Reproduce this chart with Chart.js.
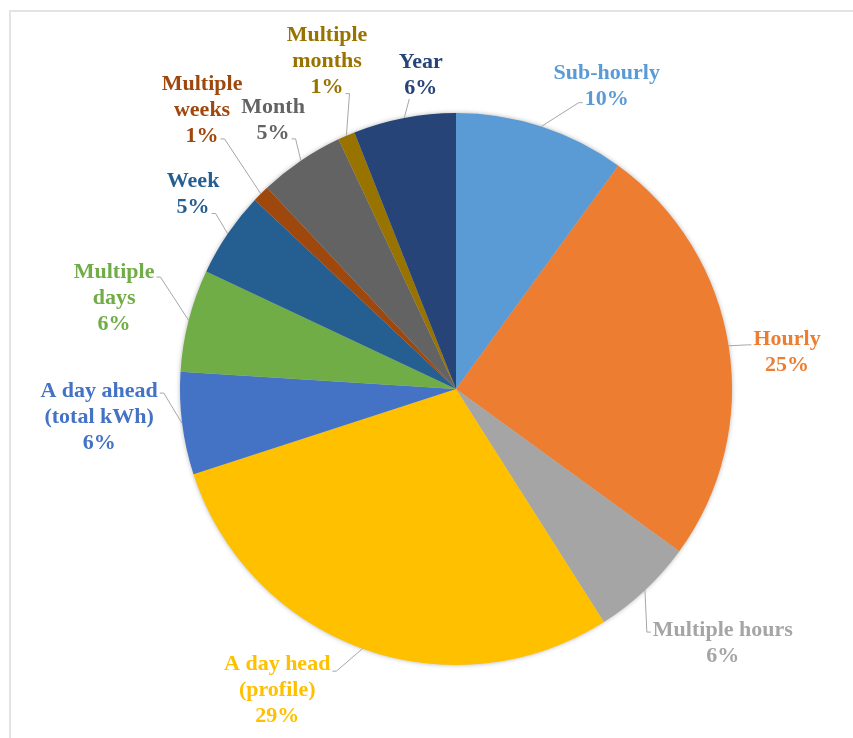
<!DOCTYPE html>
<html>
<head>
<meta charset="utf-8">
<script src="https://cdn.jsdelivr.net/npm/chart.js@4.4.1/dist/chart.umd.min.js"></script>
<style>
  html, body { margin: 0; padding: 0; background: #fff; }
  #wrap { position: relative; width: 853px; height: 738px; overflow: hidden; }
  #frame { position: absolute; left: 9px; top: 10px; right: -10px; bottom: -10px;
           border-top: 2px solid #e3e3e3; border-left: 2px solid #e3e3e3; }
  canvas { position: absolute; left: 0; top: 0; }
</style>
</head>
<body>
<div id="wrap">
  <div id="frame"></div>
  <canvas id="c" width="853" height="738"></canvas>
</div>
<script>
// Forecast horizon categories and their shares (%)
const categories = [
  'Sub-hourly', 'Hourly', 'Multiple hours', 'A day head\n(profile)',
  'A day ahead\n(total kWh)', 'Multiple\ndays', 'Week', 'Multiple\nweeks',
  'Month', 'Multiple\nmonths', 'Year'
];
const shares = [10, 25, 6, 29, 6, 6, 5, 1, 5, 1, 6];

// Slice and label colours
const sliceColors = [
  '#5B9BD5', '#ED7D31', '#A5A5A5', '#FFC000', '#4472C4', '#70AD47',
  '#255E91', '#9E480E', '#636363', '#997300', '#264478'
];

// Label placement: direction (degrees clockwise from 12 o'clock) and distance in pie radii
const labelAngle = [26.5, 83.6, 133.6, 210.7, 265.5, 284.9, 306.5, 317.7, 325.8, 338.5, 353.6];
const labelDist  = [1.224, 1.207, 1.335, 1.269, 1.297, 1.282, 1.185, 1.367, 1.179, 1.275, 1.145];
// Where each leader line meets its label: side of the block, text line, vertical nudge
const leaderSide  = ['left', 'left', 'left', 'right', 'right', 'right', 'right', 'right', 'right', 'right', 'bottom'];
const leaderLine  = [1, 0, 0, 0, 0, 0, 1, 2, 1, 2, 1];
const leaderNudge = [3, 6, 2, 7, 2, 5, 6, 3, 6, 6, 11];

const LABEL_FONT = 'bold 22px "Liberation Serif", "Times New Roman", serif';
const LINE_H = 26;

// Soft drop shadow under the whole pie
const pieShadow = {
  id: 'pieShadow',
  beforeDatasetsDraw(chart) {
    const arc = chart.getDatasetMeta(0).data[0];
    if (!arc) return;
    const { x, y, outerRadius } = arc.getProps(['x', 'y', 'outerRadius'], true);
    const ctx = chart.ctx;
    ctx.save();
    ctx.shadowColor = 'rgba(0,0,0,0.35)';
    ctx.shadowBlur = 5;
    ctx.beginPath();
    ctx.arc(x, y, outerRadius - 0.5, 0, Math.PI * 2);
    ctx.fillStyle = '#c8c8c8';
    ctx.fill();
    ctx.restore();
  }
};

// Outside labels with leader lines
const outsideLabels = {
  id: 'outsideLabels',
  afterDatasetsDraw(chart) {
    const ctx = chart.ctx;
    const meta = chart.getDatasetMeta(0);
    ctx.save();
    ctx.font = LABEL_FONT;
    ctx.textAlign = 'center';
    ctx.textBaseline = 'middle';
    meta.data.forEach((arc, i) => {
      const p = arc.getProps(['x', 'y', 'startAngle', 'endAngle', 'outerRadius'], true);
      const mid = (p.startAngle + p.endAngle) / 2;
      const R = p.outerRadius;
      const ax = p.x + Math.cos(mid) * R;
      const ay = p.y + Math.sin(mid) * R;

      const a = labelAngle[i] * Math.PI / 180 - Math.PI / 2;
      const cx = p.x + Math.cos(a) * labelDist[i] * R;
      const cy = p.y + Math.sin(a) * labelDist[i] * R;

      const lines = categories[i].split('\n').concat([shares[i] + '%']);
      const top = cy - (lines.length - 1) * LINE_H / 2;

      // leader line
      const li = leaderLine[i];
      const ly = top + li * LINE_H + leaderNudge[i];
      const w = ctx.measureText(lines[li]).width;
      ctx.strokeStyle = '#a6a6a6';
      ctx.lineWidth = 1;
      ctx.beginPath();
      ctx.moveTo(ax, ay);
      if (leaderSide[i] === 'left') {
        const ex = cx - w / 2 - 2;
        ctx.lineTo(ex - 4, ly);
        ctx.lineTo(ex, ly);
      } else if (leaderSide[i] === 'right') {
        const ex = cx + w / 2 + 2;
        ctx.lineTo(ex + 4, ly);
        ctx.lineTo(ex, ly);
      } else {
        ctx.lineTo(cx - w / 2 + 5, ly);
      }
      ctx.stroke();

      // text
      ctx.fillStyle = sliceColors[i];
      lines.forEach((t, k) => ctx.fillText(t, cx, top + k * LINE_H));
    });
    ctx.restore();
  }
};

new Chart(document.getElementById('c'), {
  type: 'pie',
  data: {
    labels: categories,
    datasets: [{
      data: shares,
      backgroundColor: sliceColors,
      borderWidth: 0,
      hoverOffset: 0
    }]
  },
  options: {
    responsive: false,
    animation: false,
    layout: { padding: { left: 180, right: 121, top: 113, bottom: 73 } },
    plugins: {
      legend: { display: false },
      tooltip: { enabled: false }
    }
  },
  plugins: [pieShadow, outsideLabels]
});
</script>
</body>
</html>
